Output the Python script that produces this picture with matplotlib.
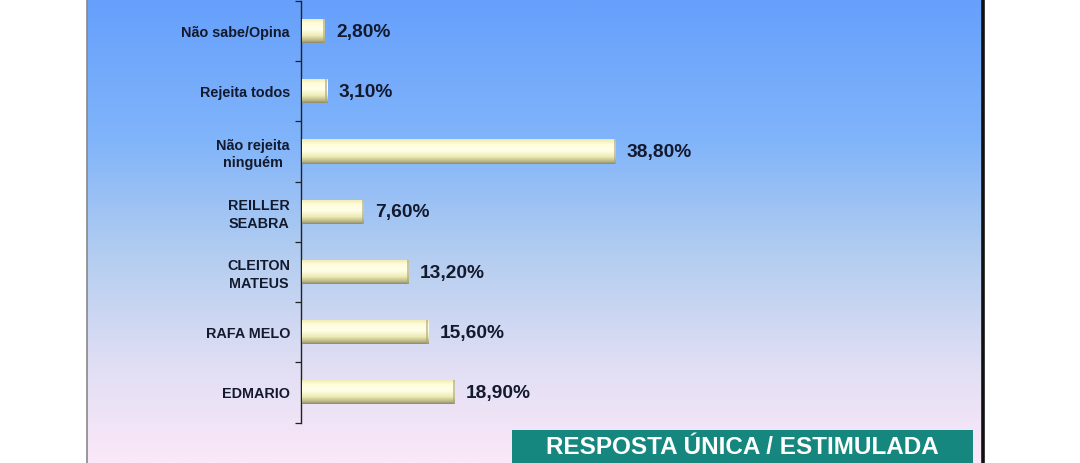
import numpy as np
import matplotlib
matplotlib.use("Agg")
import matplotlib.pyplot as plt
from matplotlib.colors import LinearSegmentedColormap

categories = ["Não sabe/Opina", "Rejeita todos", "Não rejeita\nninguém",
              "REILLER\nSEABRA", "CLEITON\nMATEUS", "RAFA MELO", "EDMARIO"]
values = [2.8, 3.1, 38.8, 7.6, 13.2, 15.6, 18.9]
value_labels = ["2,80%", "3,10%", "38,80%", "7,60%", "13,20%", "15,60%", "18,90%"]
footer = "RESPOSTA ÚNICA / ESTIMULADA"

W, H = 1080, 463
fig = plt.figure(figsize=(W / 100, H / 100), dpi=100)
fig.patch.set_facecolor("white")

def fx(px):
    return px / W

def fy(py):
    return 1 - py / H

# Background panel with gradient
bg = fig.add_axes([fx(87), 0, fx(982) - fx(87), 1])
bg_cmap = LinearSegmentedColormap.from_list(
    "bg", [(0.0, "#66a0fc"), (0.3, "#80b4fa"), (0.55, "#b3cdf0"),
           (0.8, "#e2dff4"), (1.0, "#fbe8f8")])
grad = np.linspace(0, 1, 256).reshape(-1, 1)
bg.imshow(grad, aspect="auto", cmap=bg_cmap, extent=[0, 1, 0, 1], origin="upper")
bg.set_xlim(0, 1)
bg.set_ylim(0, 1)
bg.axis("off")

# Border lines
fig.add_artist(plt.Line2D([fx(86.5), fx(86.5)], [0, 1], color="#888888", lw=1.2))
fig.add_artist(plt.Line2D([fx(982.5), fx(982.5)], [0, 1], color="#111111", lw=2.6))

# Main axes
ax_left, ax_right = 300.5, 982
ax_top, ax_bot = 0.9, 422.5
ax = fig.add_axes([fx(ax_left), fy(ax_bot), fx(ax_right) - fx(ax_left), fy(ax_top) - fy(ax_bot)])
ax.patch.set_alpha(0)
n = len(categories)
px_per_unit = 8.08
ax.set_xlim(0, (ax_right - ax_left) / px_per_unit)
ax.set_ylim(n - 0.5, -0.5)

ypos = np.arange(n)
bar_h = 0.4
bars = ax.barh(ypos, values, height=bar_h, left=0.2, color="#fffbd0", edgecolor="none", zorder=2)

bar_cmap = LinearSegmentedColormap.from_list(
    "bar", [(0.0, "#ece8b0"), (0.2, "#fffcd8"), (0.45, "#ffffea"),
            (0.7, "#f0ecb4"), (0.9, "#b9b585"), (1.0, "#8a8868")])
for b in bars:
    x0, y0 = b.get_x(), b.get_y()
    w, h = b.get_width(), b.get_height()
    im = ax.imshow(grad, aspect="auto", cmap=bar_cmap,
                   extent=[x0, x0 + w, y0 + h, y0], origin="upper", zorder=3)
    im.set_clip_path(b)
    # right end shading
    ax.barh(y0 + h / 2, 0.25, height=h, left=x0 + w - 0.25, color="#a8a47a",
            alpha=0.6, edgecolor="none", zorder=4)

ax.set_xlim(0, (ax_right - ax_left) / px_per_unit)
ax.set_ylim(n - 0.5, -0.5)

for y, v, lab in zip(ypos, values, value_labels):
    ax.text(v + 0.2 + 1.4, y + 0.02, lab, va="center", ha="left", fontsize=13.8,
            fontweight="bold", color="#141a2e", family="Liberation Sans")

ax.set_yticks(ypos)
ax.set_yticklabels(categories, fontsize=10.4, fontweight="bold", color="#141a2e",
                   family="Liberation Sans", linespacing=1.3, multialignment="center")
ax.tick_params(axis="y", which="major", length=0, pad=7.5)
ax.set_yticks(np.arange(-0.5, n, 1), minor=True)
ax.tick_params(axis="y", which="minor", length=4, width=0.9, color="#222222", direction="out")
ax.set_xticks([])
for s in ["top", "right", "bottom"]:
    ax.spines[s].set_visible(False)
ax.spines["left"].set_linewidth(1.0)
ax.spines["left"].set_color("#222222")

# Footer box
fig.add_artist(plt.Rectangle((fx(512), 0), fx(973) - fx(512), fy(430), transform=fig.transFigure,
                             facecolor="#15877e", edgecolor="none", zorder=5))
fig.text(fx(742.5), fy(447), footer, ha="center", va="center", fontsize=17.5,
         fontweight="bold", color="white", family="Liberation Sans", zorder=6)

fig.savefig("out.png", dpi=100, facecolor="white")
